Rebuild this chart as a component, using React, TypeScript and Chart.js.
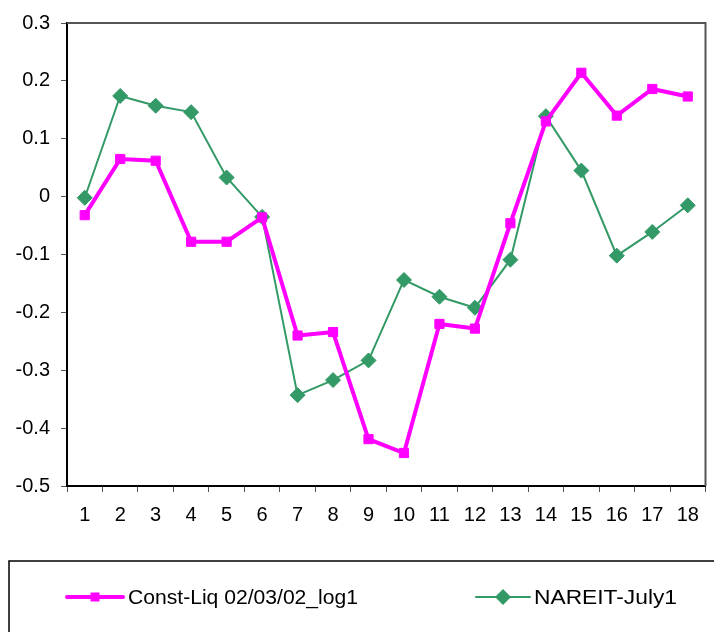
import React, { useEffect, useRef } from "react";
import { Chart, registerables } from "chart.js";

Chart.register(...registerables);

const categories = ["1","2","3","4","5","6","7","8","9","10","11","12","13","14","15","16","17","18"];
const constLiqLabel = "Const-Liq 02/03/02_log1";
const nareitLabel = "NAREIT-July1";
const constLiq = [-0.032, 0.065, 0.062, -0.078, -0.078, -0.036, -0.240, -0.234, -0.419, -0.443, -0.220, -0.228, -0.046, 0.130, 0.214, 0.140, 0.186, 0.173];
const nareit = [-0.002, 0.174, 0.157, 0.146, 0.033, -0.035, -0.343, -0.317, -0.283, -0.144, -0.173, -0.192, -0.109, 0.139, 0.045, -0.102, -0.061, -0.015];
const yMin = -0.5;
const yMax = 0.3;
const yStep = 0.1;

const MAGENTA = "#FF00FF";
const GREEN = "#339966";
const FONT = "'Liberation Sans', Arial, sans-serif";

function stretchedText(ctx: CanvasRenderingContext2D, text: string, x: number, y: number, targetW: number) {
  const w = ctx.measureText(text).width;
  const sx = w > 0 ? targetW / w : 1;
  ctx.save();
  ctx.translate(x, y);
  ctx.scale(sx, 1);
  ctx.fillText(text, 0, 0);
  ctx.restore();
}

const framePlugin = {
  id: "frameAndLegend",
  afterDraw(chart: any) {
    const ctx = chart.ctx;
    const a = chart.chartArea;
    ctx.save();
    // top & right plot frame
    ctx.strokeStyle = "#555555";
    ctx.lineWidth = 2;
    ctx.beginPath();
    ctx.moveTo(a.left, a.top);
    ctx.lineTo(a.right, a.top);
    ctx.lineTo(a.right, a.bottom);
    ctx.stroke();

    // legend box
    ctx.strokeStyle = "#000000";
    ctx.lineWidth = 1.5;
    ctx.strokeRect(9, 561, 720, 100);

    const ly = 597;
    // magenta entry
    ctx.strokeStyle = MAGENTA;
    ctx.lineWidth = 4;
    ctx.lineCap = "round";
    ctx.beginPath();
    ctx.moveTo(67, ly);
    ctx.lineTo(123, ly);
    ctx.stroke();
    ctx.fillStyle = MAGENTA;
    ctx.fillRect(95 - 4.5, ly - 4.5, 9, 9);

    // green entry
    ctx.strokeStyle = GREEN;
    ctx.lineWidth = 2;
    ctx.beginPath();
    ctx.moveTo(476, ly);
    ctx.lineTo(530, ly);
    ctx.stroke();
    ctx.fillStyle = GREEN;
    ctx.beginPath();
    ctx.moveTo(503, ly - 8);
    ctx.lineTo(511, ly);
    ctx.lineTo(503, ly + 8);
    ctx.lineTo(495, ly);
    ctx.closePath();
    ctx.fill();

    ctx.fillStyle = "#000000";
    ctx.font = `20px ${FONT}`;
    ctx.textBaseline = "middle";
    ctx.textAlign = "left";
    stretchedText(ctx, constLiqLabel, 128, ly + 1, 230);
    stretchedText(ctx, nareitLabel, 534, ly + 1, 143);
    ctx.restore();
  },
};

export default function App() {
  const ref = useRef<HTMLCanvasElement | null>(null);
  useEffect(() => {
    if (!ref.current) return;
    const chart = new Chart(ref.current, {
      type: "line",
      data: {
        labels: categories,
        datasets: [
          {
            label: constLiqLabel,
            data: constLiq,
            borderColor: MAGENTA,
            backgroundColor: MAGENTA,
            borderWidth: 4,
            pointStyle: "rect",
            pointRadius: 6.5,
            pointBorderWidth: 1,
            pointBackgroundColor: MAGENTA,
            pointBorderColor: MAGENTA,
            tension: 0,
          },
          {
            label: nareitLabel,
            data: nareit,
            borderColor: GREEN,
            backgroundColor: GREEN,
            borderWidth: 2,
            pointStyle: "rectRot",
            pointRadius: 7.5,
            pointBorderWidth: 1,
            pointBackgroundColor: GREEN,
            pointBorderColor: GREEN,
            tension: 0,
          },
        ],
      },
      options: {
        responsive: false,
        animation: false,
        layout: { padding: { top: 20, left: 0, right: 1, bottom: 0 } },
        plugins: { legend: { display: false }, tooltip: { enabled: false } },
        scales: {
          x: {
            offset: true,
            grid: {
              offset: true,
              drawOnChartArea: false,
              drawTicks: true,
              tickLength: 6,
              color: "#555555",
            },
            border: { display: true, color: "#000000", width: 2 },
            ticks: {
              color: "#000000",
              font: { family: FONT, size: 20 },
              padding: 11,
              maxRotation: 0,
              autoSkip: false,
            },
            afterFit: (s: any) => {
              s.height = 146;
            },
          },
          y: {
            min: yMin,
            max: yMax,
            grid: {
              drawOnChartArea: false,
              drawTicks: true,
              tickLength: 6,
              color: "#555555",
            },
            border: { display: true, color: "#000000", width: 2 },
            ticks: {
              stepSize: yStep,
              color: "#000000",
              font: { family: FONT, size: 20 },
              padding: 11,
              callback: (v: any) => {
                const r = Math.round(Number(v) * 10) / 10;
                return r === 0 ? "0" : r.toFixed(1);
              },
            },
            afterFit: (s: any) => {
              s.width = 67;
            },
          },
        },
      },
      plugins: [framePlugin],
    });
    return () => chart.destroy();
  }, []);
  return (
    <div style={{ position: "fixed", left: 0, top: 0, width: 714, height: 632, background: "#fff" }}>
      <canvas ref={ref} width={714} height={632} style={{ display: "block" }} />
    </div>
  );
}
